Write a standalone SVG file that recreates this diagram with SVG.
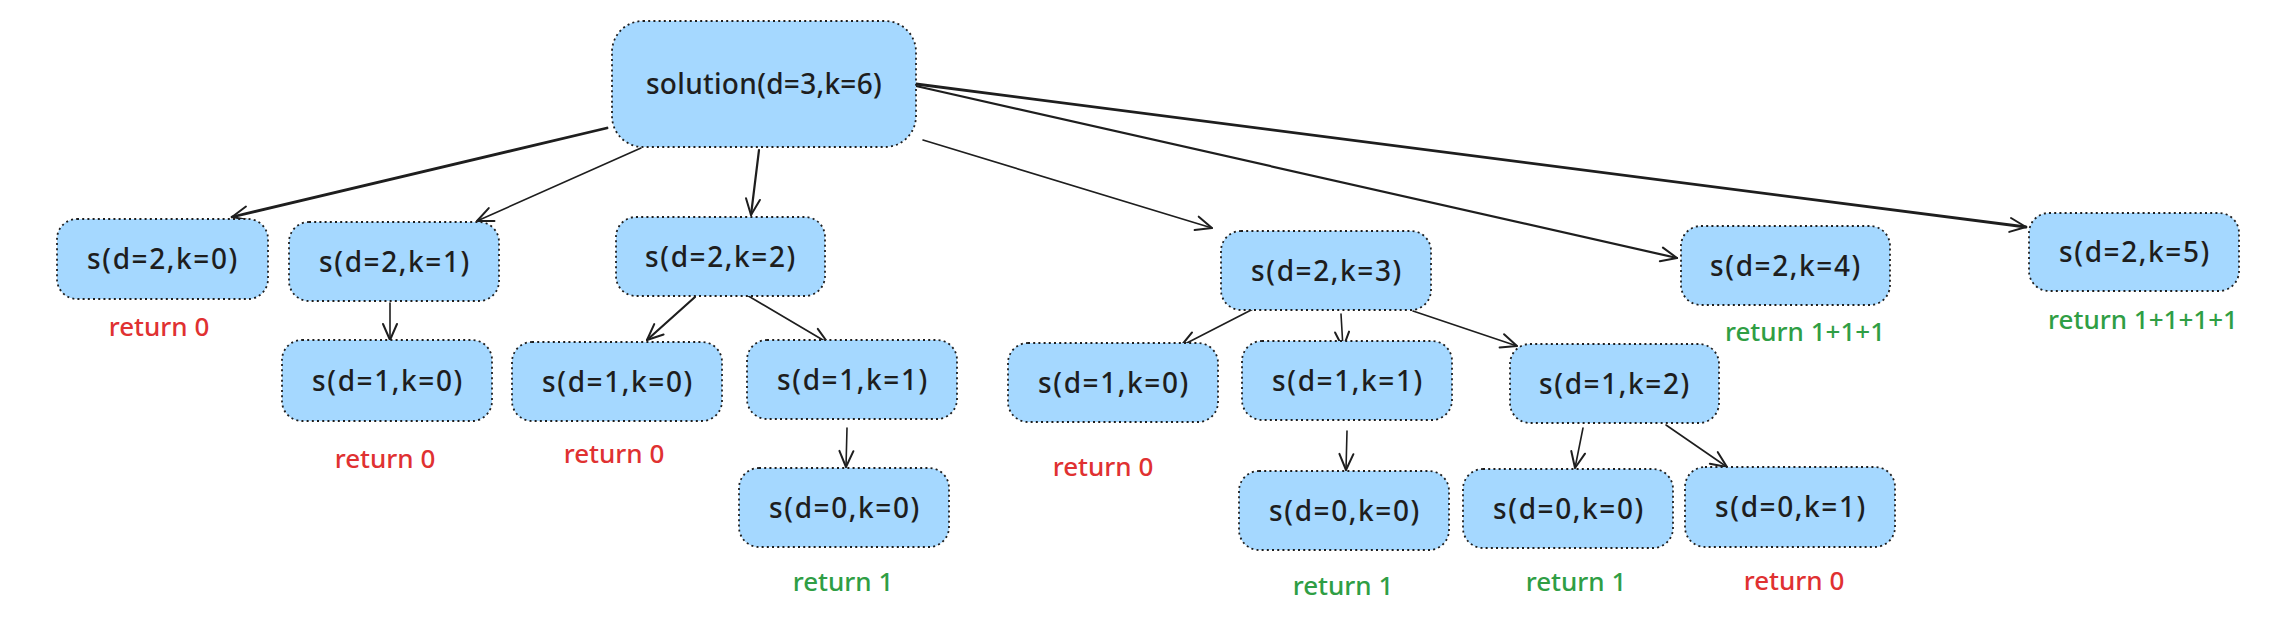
<svg xmlns="http://www.w3.org/2000/svg" width="2280" height="630" viewBox="0 0 2280 630">
<style>
.box{fill:#a5d8ff;stroke:#1e1e1e;stroke-width:1.8;stroke-dasharray:2 3.2}
.lbl{font-family:"Noto Sans","Liberation Sans",sans-serif;font-size:28px;font-weight:500;fill:#1e1e1e;text-anchor:middle;letter-spacing:1.6px}
.root{letter-spacing:0.3px}
.ret{font-family:"Noto Sans","Liberation Sans",sans-serif;font-size:26px;font-weight:500;text-anchor:middle}
.red{fill:#e03131}
.green{fill:#2f9e44}
.c{fill:none;stroke:#1e1e1e;stroke-linecap:round;marker-end:url(#ah)}
.thick{stroke-width:2.8}
.mid{stroke-width:2.2}
.thin{stroke-width:1.6}
</style>
<defs>
<marker id="ah" markerUnits="userSpaceOnUse" markerWidth="24" markerHeight="24" viewBox="-20 -12 24 24" refX="0" refY="0" orient="auto">
<path d="M -16 -7 L 0 0 L -16 7" fill="none" stroke="#1e1e1e" stroke-width="2" stroke-linecap="round" stroke-linejoin="round"/>
</marker>
</defs>
<rect width="2280" height="630" fill="#ffffff"/>
<g id="connectors">
<path class="c thick" d="M607 128 L232 217"/>
<path class="c thin" d="M641 148 L477 221"/>
<path class="c mid" d="M759 150 L751 215"/>
<path class="c thin" d="M923 140 L1212 228"/>
<path class="c mid" d="M916 86 L1677 258"/>
<path class="c thick" d="M916 84 L2026 227"/>
<path class="c thin" d="M390 303 L390 340"/>
<path class="c mid" d="M695 297 L647 340"/>
<path class="c thin" d="M745 294 L828 343"/>
<path class="c thin" d="M847 428 L846 467"/>
<path class="c thin" d="M1257 307 L1181 346"/>
<path class="c thin" d="M1341 314 L1343 348"/>
<path class="c thin" d="M1347 431 L1346 470"/>
<path class="c thin" d="M1413 311 L1517 346"/>
<path class="c thin" d="M1583 428 L1575 468"/>
<path class="c thin" d="M1666 425 L1727 467"/>
</g>
<g id="root"><rect class="box" x="612" y="21" width="304" height="126" rx="31"/><text class="lbl root" x="764" y="94">solution(d=3,k=6)</text></g>
<g id="s20"><rect class="box" x="57" y="219" width="211" height="80" rx="20"/><text class="lbl" x="163" y="269">s(d=2,k=0)</text></g>
<g id="s21"><rect class="box" x="289" y="222" width="210" height="79" rx="20"/><text class="lbl" x="395" y="271.5">s(d=2,k=1)</text></g>
<g id="s10a"><rect class="box" x="282" y="340" width="210" height="81" rx="20"/><text class="lbl" x="388" y="390.5">s(d=1,k=0)</text></g>
<g id="s22"><rect class="box" x="616" y="217" width="209" height="79" rx="20"/><text class="lbl" x="721" y="266.5">s(d=2,k=2)</text></g>
<g id="s10b"><rect class="box" x="512" y="342" width="210" height="79" rx="20"/><text class="lbl" x="618" y="391.5">s(d=1,k=0)</text></g>
<g id="s11a"><rect class="box" x="747" y="340" width="210" height="79" rx="20"/><text class="lbl" x="853" y="389.5">s(d=1,k=1)</text></g>
<g id="s00a"><rect class="box" x="739" y="468" width="210" height="79" rx="20"/><text class="lbl" x="845" y="517.5">s(d=0,k=0)</text></g>
<g id="s23"><rect class="box" x="1221" y="231" width="210" height="79" rx="20"/><text class="lbl" x="1327" y="280.5">s(d=2,k=3)</text></g>
<g id="s10c"><rect class="box" x="1008" y="343" width="210" height="79" rx="20"/><text class="lbl" x="1114" y="392.5">s(d=1,k=0)</text></g>
<g id="s11b"><rect class="box" x="1242" y="341" width="210" height="79" rx="20"/><text class="lbl" x="1348" y="390.5">s(d=1,k=1)</text></g>
<g id="s00b"><rect class="box" x="1239" y="471" width="210" height="79" rx="20"/><text class="lbl" x="1345" y="520.5">s(d=0,k=0)</text></g>
<g id="s12"><rect class="box" x="1510" y="344" width="209" height="79" rx="20"/><text class="lbl" x="1615" y="393.5">s(d=1,k=2)</text></g>
<g id="s00c"><rect class="box" x="1463" y="469" width="210" height="79" rx="20"/><text class="lbl" x="1569" y="518.5">s(d=0,k=0)</text></g>
<g id="s01"><rect class="box" x="1685" y="467" width="210" height="80" rx="20"/><text class="lbl" x="1791" y="517">s(d=0,k=1)</text></g>
<g id="s24"><rect class="box" x="1681" y="226" width="209" height="79" rx="20"/><text class="lbl" x="1786" y="275.5">s(d=2,k=4)</text></g>
<g id="s25"><rect class="box" x="2029" y="213" width="210" height="78" rx="20"/><text class="lbl" x="2135" y="262">s(d=2,k=5)</text></g>
<g id="returns">
<text class="ret red" x="159" y="336">return 0</text>
<text class="ret red" x="385" y="468">return 0</text>
<text class="ret red" x="614" y="463">return 0</text>
<text class="ret green" x="843" y="591">return 1</text>
<text class="ret red" x="1103" y="476">return 0</text>
<text class="ret green" x="1343" y="595">return 1</text>
<text class="ret green" x="1576" y="591">return 1</text>
<text class="ret red" x="1794" y="590">return 0</text>
<text class="ret green" x="1805" y="341">return 1+1+1</text>
<text class="ret green" x="2143" y="329">return 1+1+1+1</text>
</g>
</svg>
